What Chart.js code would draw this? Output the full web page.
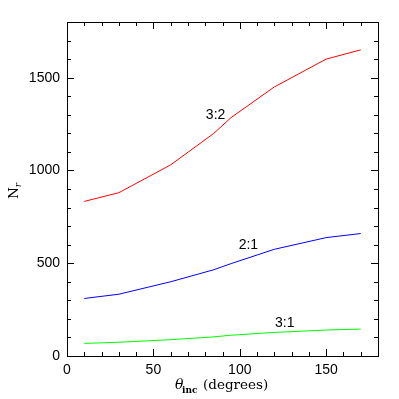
<!DOCTYPE html>
<html>
<head>
<meta charset="utf-8">
<script src="https://cdn.jsdelivr.net/npm/chart.js@4"></script>
<style>
  html, body { margin: 0; padding: 0; background: #fff; }
  #wrap { width: 399px; height: 399px; }
</style>
</head>
<body>
<div id="wrap"><canvas id="nr-chart"></canvas></div>
<script>
const inclination = [10, 30, 60, 85, 95, 120, 150, 170];
const res32 = [833, 880, 1030, 1200, 1285, 1450, 1600, 1650];
const res21 = [310, 333, 400, 465, 498, 575, 638, 660];
const res31 = [68, 74, 88, 103, 112, 127, 140, 145];

// series labels placed in data coordinates
const seriesNames = ["3:2", "2:1", "3:1"];
const nameX = [86, 105, 126];
const nameY = [1296, 600, 176];

const tickFont = { family: "Liberation Sans", size: 14 };

function points(ys) {
  return inclination.map((x, i) => ({ x: x, y: ys[i] }));
}

const frame = {
  id: "frame",
  afterDraw(chart) {
    const ctx = chart.ctx;
    const { left, right, top, bottom } = chart.chartArea;
    const xs = chart.scales.x;
    const ys = chart.scales.y;
    ctx.save();
    ctx.strokeStyle = "#000";
    ctx.lineWidth = 1;
    ctx.strokeRect(left + 0.5, top + 0.5, right - left, bottom - top);

    ctx.beginPath();
    xs.ticks.forEach(t => {
      const px = Math.round(xs.getPixelForValue(t.value)) + 0.5;
      const len = t.value % 50 === 0 ? 7 : 4;
      ctx.moveTo(px, bottom); ctx.lineTo(px, bottom - len);
      ctx.moveTo(px, top); ctx.lineTo(px, top + len);
    });
    ys.ticks.forEach(t => {
      const py = Math.round(ys.getPixelForValue(t.value)) + 0.5;
      const len = t.value % 500 === 0 ? 7 : 4;
      ctx.moveTo(left, py); ctx.lineTo(left + len, py);
      ctx.moveTo(right, py); ctx.lineTo(right - len, py);
    });
    ctx.stroke();

    // series labels
    ctx.fillStyle = "#000";
    ctx.font = "14px 'Liberation Sans'";
    ctx.textAlign = "center";
    ctx.textBaseline = "middle";
    seriesNames.forEach((s, i) => {
      ctx.fillText(s, xs.getPixelForValue(nameX[i]), ys.getPixelForValue(nameY[i]));
    });

    // x axis title: theta_inc (degrees)
    ctx.textAlign = "left";
    ctx.textBaseline = "alphabetic";
    const base = 389;
    ctx.font = "italic 14px 'DejaVu Serif'";
    ctx.fillText("\u03b8", 175, base);
    ctx.font = "bold 9px 'DejaVu Serif'";
    ctx.fillText("inc", 182, base + 4);
    ctx.font = "13.5px 'DejaVu Serif'";
    ctx.fillText("(degrees)", 203, base);

    // y axis title: N_r
    ctx.translate(18, 191);
    ctx.rotate(-Math.PI / 2);
    ctx.font = "13.5px 'DejaVu Serif'";
    const wN = ctx.measureText("N").width;
    ctx.font = "italic 9px 'DejaVu Serif'";
    const wR = ctx.measureText("r").width;
    const y0 = -(wN + wR) / 2;
    ctx.font = "13.5px 'DejaVu Serif'";
    ctx.fillText("N", y0, 0);
    ctx.font = "italic 9px 'DejaVu Serif'";
    ctx.fillText("r", y0 + wN, 3);
    ctx.restore();
  }
};

new Chart(document.getElementById("nr-chart"), {
  type: "line",
  data: {
    datasets: [
      { data: points(res32), borderColor: "#ff0000" },
      { data: points(res21), borderColor: "#0000ff" },
      { data: points(res31), borderColor: "#00ff00" },
    ],
  },
  options: {
    responsive: true,
    maintainAspectRatio: false,
    animation: false,
    events: [],
    layout: { padding: { top: 22, right: 21, left: 0, bottom: 0 } },
    elements: {
      point: { radius: 0 },
      line: { borderWidth: 1, tension: 0, fill: false },
    },
    plugins: { legend: { display: false }, tooltip: { enabled: false } },
    scales: {
      x: {
        type: "linear",
        min: 0,
        max: 180,
        grid: { display: false, drawTicks: false },
        border: { display: false },
        afterFit(scale) { scale.height = 43; },
        ticks: {
          stepSize: 10,
          autoSkip: false,
          maxRotation: 0,
          padding: 6,
          color: "#000",
          font: tickFont,
          callback: v => (v % 50 === 0 ? v : ""),
        },
      },
      y: {
        min: 0,
        max: 1800,
        grid: { display: false, drawTicks: false },
        border: { display: false },
        afterFit(scale) { scale.width = 67; },
        ticks: {
          stepSize: 100,
          autoSkip: false,
          padding: 7,
          color: "#000",
          font: tickFont,
          callback: v => (v % 500 === 0 ? v : ""),
        },
      },
    },
  },
  plugins: [frame],
});
</script>
</body>
</html>
